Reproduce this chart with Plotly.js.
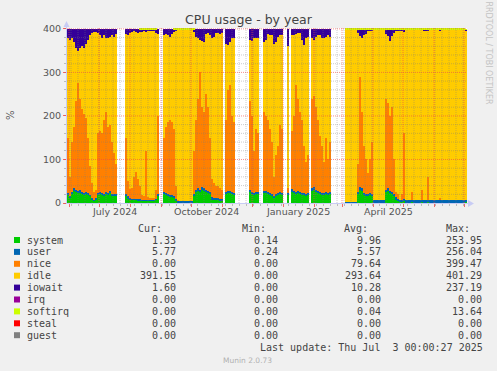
<!DOCTYPE html>
<html>
<head>
<meta charset="utf-8">
<script src="https://cdn.plot.ly/plotly-3.0.1.min.js"></script>
<style>
  html, body { margin: 0; padding: 0; background: #F0F0F0; }
  #chart { width: 497px; height: 371px; }
</style>
</head>
<body>
<div id="chart"></div>
<script>
// ---- time bins: 2-day averages starting 2024-05-30 (null = no data) ----
const binStart = '2024-05-30';
const binDays = 2;

const system = [
  18, 12, 20, 28, 25, 22, 24, 20, 18, 20,
  18, 15, 8, 5, 8, 18, 20, 18, 15, 20,
  18, 22, 15, 15, 15, null, null, null, null, 15,
  10, 8, 6, 6, 6, 5, 5, 4, 4, 5,
  4, 4, 4, 4, 6, 15, null, null, 20, 18,
  15, 14, 14, 12, 5, 1, 1, 1, 1, 1,
  1, 1, 1, 15, 25, 28, 25, 30, 28, 25,
  22, 20, 8, 6, 6, 6, 5, 5, null, 20,
  22, 22, 20, 18, null, null, null, null, null, null,
  null, 25, 20, 18, 20, 20, null, null, 22, 22,
  20, 18, 16, 12, 15, 18, 20, 18, null, null,
  18, null, 25, 22, 20, 22, 20, 18, 18, 15,
  18, null, 28, 30, 25, 22, 20, 18, 18, 20,
  18, 20, null, null, null, null, null, null, null, 0.5,
  0.5, 0.5, 0.5, 0.5, 0.5, 20, 30, 28, 18, 15,
  15, 18, 15, 1, 1, 1, 1, 1, 1, 25,
  28, 22, 20, 15, 8, 5, 2, 3, 4, 1,
  1, 1, 2, 1, 1, 1, 1, 2, 1, 1,
  2, 1, 1, 1, 1, 1, 1, 1, 1, 1,
  1, 1, 1, 1, 1, 1, 1, 1, 1, 1.3
];
const user = [
  6, 5, 6, 7, 6, 6, 6, 5, 5, 5,
  5, 4, 3, 3, 3, 5, 5, 5, 5, 5,
  5, 6, 5, 5, 5, null, null, null, null, 6,
  5, 4, 4, 4, 4, 4, 4, 3, 3, 3,
  3, 3, 3, 3, 4, 6, null, null, 5, 5,
  5, 5, 5, 4, 4, 4, 4, 4, 4, 4,
  4, 4, 4, 5, 6, 6, 6, 7, 6, 6,
  5, 5, 6, 6, 6, 5, 5, 5, null, 6,
  6, 6, 6, 5, null, null, null, null, null, null,
  null, 6, 6, 5, 5, 5, null, null, 6, 6,
  6, 5, 5, 4, 5, 5, 6, 5, null, null,
  5, null, 7, 6, 6, 6, 6, 5, 5, 5,
  5, null, 7, 7, 6, 6, 6, 5, 5, 5,
  5, 5, null, null, null, null, null, null, null, 1.5,
  1.5, 1.5, 1.5, 1.5, 1.5, 5, 6, 6, 5, 5,
  5, 5, 5, 5, 5, 5, 5, 5, 5, 6,
  6, 6, 6, 5, 5, 5, 5, 5, 5, 5,
  5, 5, 5, 5, 5, 5, 5, 5, 5, 5,
  5, 5, 5, 5, 5, 5, 5, 5, 5, 5,
  5, 5, 5, 5, 5, 5, 5, 5, 5, 5.8
];
const nice = [
  126, 43, 114, 140, 204, 247, 210, 190, 182, 170,
  127, 66, 34, 17, 19, 137, 140, 137, 170, 185,
  152, 152, 120, 95, 70, null, null, null, null, 129,
  35, 20, 25, 50, 62, 46, 29, 11, 8, 112,
  7, 5, 5, 5, 20, 179, null, null, 125, 152,
  165, 171, 166, 154, 31, 1, 0, 0, 0, 0,
  0, 0, 0, 100, 159, 206, 269, 183, 176, 219,
  193, 125, 41, 33, 28, 27, 25, 20, null, 164,
  232, 242, 174, 162, null, null, null, null, null, null,
  null, 204, 174, 97, 145, 135, null, null, 182, 172,
  164, 147, 119, 44, 90, 107, 154, 147, null, null,
  12, null, 133, 172, 244, 212, 184, 167, 107, 75,
  87, null, 205, 208, 189, 162, 129, 107, 72, 125,
  77, 115, null, null, null, null, null, null, null, 0,
  0, 0, 0, 0, 0, 65, 254, 176, 107, 80,
  50, 77, 120, 0, 0, 0, 0, 0, 0, 209,
  196, 172, 194, 80, 12, 10, 1, 12, 151, 2,
  0, 0, 18, 0, 0, 0, 0, 23, 0, 0,
  53, 0, 0, 0, 0, 0, 6, 0, 0, 0,
  0, 0, 0, 0, 0, 0, 0, 0, 0, 0
];
const idle = [
  230, 315, 238, 195, 120, 75, 115, 145, 150, 170,
  225, 300, 345, 367, 362, 230, 220, 220, 195, 170,
  203, 202, 245, 267, 298, null, null, null, null, 238,
  335, 358, 357, 334, 320, 335, 354, 375, 379, 272,
  381, 383, 382, 382, 360, 188, null, null, 235, 213,
  200, 192, 203, 223, 356, 391, 392, 392, 392, 392,
  392, 392, 392, 273, 192, 138, 75, 152, 160, 138,
  170, 235, 323, 337, 350, 352, 353, 360, null, 175,
  102, 100, 178, 195, null, null, null, null, null, null,
  null, 140, 172, 258, 210, 220, null, null, 160, 175,
  198, 215, 245, 305, 260, 252, 205, 215, null, null,
  325, null, 220, 185, 118, 150, 180, 185, 232, 285,
  272, null, 138, 130, 162, 195, 230, 250, 283, 232,
  285, 242, null, null, null, null, null, null, null, 396,
  396, 396, 396, 396, 396, 300, 93, 170, 256, 288,
  325, 295, 255, 391, 391, 391, 391, 391, 391, 148,
  153, 173, 163, 290, 369, 374, 387, 375, 233, 388.5,
  390.5, 390.5, 371.5, 390.5, 390.5, 390.5, 390.5, 366.5, 389.5, 389.5,
  335.5, 391, 391, 391, 391, 391, 384, 390.5, 390.5, 390.5,
  390.5, 390.5, 390.5, 390.5, 390.5, 390.5, 390.5, 390.5, 390.5, 389
];
const iowait = [
  20, 25, 22, 30, 45, 50, 45, 40, 45, 35,
  25, 15, 10, 8, 8, 10, 15, 20, 15, 20,
  22, 18, 15, 18, 12, null, null, null, null, 12,
  15, 10, 8, 6, 8, 10, 6, 5, 4, 6,
  3, 3, 4, 4, 8, 12, null, null, 15, 12,
  15, 18, 12, 5, 2, 1, 1, 1, 1, 1,
  1, 1, 1, 5, 18, 22, 25, 28, 30, 12,
  10, 15, 22, 18, 10, 10, 12, 10, null, 35,
  38, 30, 22, 20, null, null, null, null, null, null,
  null, 25, 28, 22, 20, 20, null, null, 30, 25,
  12, 15, 15, 35, 30, 18, 15, 15, null, null,
  40, null, 15, 15, 12, 10, 10, 25, 38, 20,
  18, null, 22, 25, 18, 15, 15, 20, 22, 18,
  15, 18, null, null, null, null, null, null, null, 0,
  0, 0, 0, 0, 0, 8, 15, 18, 12, 10,
  3, 3, 3, 1, 1, 1, 1, 1, 1, 10,
  15, 25, 15, 8, 4, 4, 3, 3, 5, 1.5,
  1.5, 1.5, 1.5, 1.5, 1.5, 1.5, 1.5, 1.5, 2.5, 2.5,
  2.5, 1, 1, 1, 1, 1, 2, 1.5, 1.5, 1.5,
  1.5, 1.5, 1.5, 1.5, 1.5, 1.5, 1.5, 1.5, 1.5, 1.6
];
const softirq = [
  0, 0, 0, 0, 0, 0, 0, 0, 0, 0,
  0, 0, 0, 0, 0, 0, 0, 0, 0, 0,
  0, 0, 0, 0, 0, null, null, null, null, 0,
  0, 0, 0, 0, 0, 0, 3, 3, 3, 3,
  3, 3, 3, 3, 3, 0, null, null, 0, 0,
  0, 0, 0, 3, 3, 3, 3, 3, 3, 3,
  3, 3, 3, 3, 0, 0, 0, 0, 0, 0,
  0, 0, 0, 0, 0, 0, 0, 0, null, 0,
  0, 0, 0, 0, null, null, null, null, null, null,
  null, 0, 0, 0, 0, 0, null, null, 0, 0,
  0, 0, 0, 0, 0, 0, 0, 0, null, null,
  0, null, 0, 0, 0, 0, 0, 0, 0, 0,
  0, null, 0, 0, 0, 0, 0, 0, 0, 0,
  0, 0, null, null, null, null, null, null, null, 3,
  3, 3, 3, 3, 3, 3, 3, 3, 3, 3,
  3, 3, 3, 3, 3, 3, 3, 3, 3, 3,
  3, 3, 3, 3, 3, 3, 3, 3, 3, 3,
  3, 3, 3, 3, 3, 3, 3, 3, 3, 3,
  3, 3, 3, 3, 3, 3, 3, 3, 3, 3,
  3, 3, 3, 3, 3, 3, 3, 3, 3, 3
];

// ---- legend table ----
const seriesNames = ['system', 'user', 'nice', 'idle', 'iowait', 'irq', 'softirq', 'steal', 'guest'];
const seriesColors = ['#00CC00', '#0066B3', '#FF8000', '#FFCC00', '#330099', '#990099', '#CCFF00', '#FF0000', '#808080'];
const curValues = ['1.33', '5.77', '0.00', '391.15', '1.60', '0.00', '0.00', '0.00', '0.00'];
const minValues = ['0.14', '0.24', '0.00', '0.00', '0.00', '0.00', '0.00', '0.00', '0.00'];
const avgValues = ['9.96', '5.57', '79.64', '293.64', '10.28', '0.00', '0.04', '0.00', '0.00'];
const maxValues = ['253.95', '256.04', '399.47', '401.29', '237.19', '0.00', '13.64', '0.00', '0.00'];
const columnHeaders = ['Cur:', 'Min:', 'Avg:', 'Max:'];

// ---- axis labels ----
const xTickLabels = ['July 2024', 'October 2024', 'January 2025', 'April 2025'];
const xTickDates = ['2024-07-16 12:00', '2024-10-16 12:00', '2025-01-16', '2025-04-16'];
const xRange = ['2024-05-30', '2025-07-04'];
const yTicks = [0, 100, 200, 300, 400];

// ---------------------------------------------------------------
const DAY = 86400000;
const t0 = Date.parse(binStart + 'T00:00:00Z');
function fmt(ms) { return new Date(ms).toISOString().slice(0, 16).replace('T', ' '); }
const xs = system.map((_, i) => fmt(t0 + (i * binDays + binDays / 2) * DAY));

const stack = [
  ['system', system, seriesColors[0]],
  ['user', user, seriesColors[1]],
  ['nice', nice, seriesColors[2]],
  ['idle', idle, seriesColors[3]],
  ['iowait', iowait, seriesColors[4]],
  ['softirq', softirq, seriesColors[6]]
];
// bars slightly wider than a bin so neighbouring columns overlap (no seams)
const traces = stack.map(([name, ys, col]) => ({
  type: 'bar', name: name, x: xs, y: ys,
  width: binDays * DAY * 1.3,
  marker: { color: col, line: { width: 0 } },
  hoverinfo: 'skip'
}));

// pixel -> paper helpers (plot area 67..467 x 28..203)
const PL = 67, PR = 467, PT = 28, PB = 203;
const px = v => (v - PL) / (PR - PL);
const py = v => (PB - v) / (PB - PT);

const shapes = [];
const minorCol = 'rgba(120,120,120,0.38)';
const majorCol = 'rgba(240,70,70,0.6)';
// horizontal grid (on top of data like rrdtool)
for (let v = 20; v <= 400; v += 20) {
  shapes.push({ type: 'line', xref: 'paper', yref: 'y', x0: 0, x1: 1, y0: v, y1: v, layer: 'above',
    line: { color: v % 100 === 0 ? majorCol : minorCol, width: 1, dash: '1px,1px' } });
}
// weekly minor grid (Mondays)
for (let t = Date.parse('2024-06-03T00:00:00Z'); t < Date.parse('2025-07-04T00:00:00Z'); t += 7 * DAY) {
  shapes.push({ type: 'line', xref: 'x', yref: 'paper', x0: fmt(t), x1: fmt(t), y0: 0, y1: 1, layer: 'above',
    line: { color: minorCol, width: 1, dash: '1px,1px' } });
}
// monthly major grid
for (let k = 0; k < 14; k++) {
  const d = new Date(Date.UTC(2024, 5 + k, 1));
  const s = fmt(d.getTime());
  shapes.push({ type: 'line', xref: 'x', yref: 'paper', x0: s, x1: s, y0: 0, y1: 1, layer: 'above',
    line: { color: majorCol, width: 1, dash: '1px,1px' } });
}
// axis lines + arrows (lavender)
const axisCol = '#C8CCF4';
shapes.push({ type: 'line', xref: 'paper', yref: 'paper', x0: px(66), x1: px(470), y0: py(203.5), y1: py(203.5), layer: 'above', line: { color: axisCol, width: 1 } });
shapes.push({ type: 'line', xref: 'paper', yref: 'paper', x0: px(66.5), x1: px(66.5), y0: py(204), y1: py(25), layer: 'above', line: { color: axisCol, width: 1 } });
shapes.push({ type: 'path', xref: 'paper', yref: 'paper', layer: 'above',
  path: `M ${px(468)},${py(200)} L ${px(474)},${py(203.5)} L ${px(468)},${py(207)} Z`,
  fillcolor: axisCol, line: { width: 0 } });
shapes.push({ type: 'path', xref: 'paper', yref: 'paper', layer: 'above',
  path: `M ${px(63.5)},${py(27)} L ${px(66.5)},${py(21)} L ${px(69.5)},${py(27)} Z`,
  fillcolor: axisCol, line: { width: 0 } });

const annotations = [];
const mono = 'DejaVu Sans Mono';
const textCol = '#444';
function ann(text, x, y, xanchor, font, extra) {
  annotations.push(Object.assign({ text: text, xref: 'paper', yref: 'paper', x: px(x), y: py(y),
    xanchor: xanchor, yanchor: 'middle', showarrow: false, borderpad: 0, borderwidth: 0, font: font }, extra || {}));
}
// x labels
xTickLabels.forEach((t, i) => {
  annotations.push({ text: t, xref: 'x', yref: 'paper', x: xTickDates[i], y: py(211.7), xanchor: 'center', yanchor: 'middle',
    showarrow: false, borderpad: 0, borderwidth: 0, font: { family: 'DejaVu Sans', size: 9.5, color: '#555' } });
});
// y title
ann('%', 10, 115, 'center', { family: 'DejaVu Sans', size: 10, color: '#555' }, { textangle: -90 });
// watermark
ann('RRDTOOL / TOBI OETIKER', 488.5, 53, 'center', { family: 'DejaVu Sans', size: 8, color: '#C4C4C4' }, { textangle: 90 });

// legend table
const headerRight = [162.3, 265.7, 367.7, 470];
const valueRight = [175.7, 278.3, 380.7, 482.3];
const monoFont = { family: mono, size: 10, color: textCol };
columnHeaders.forEach((h, j) => ann(h, headerRight[j], 228.3, 'right', monoFont));
const rowY0 = 240, rowStep = 11.9;
seriesNames.forEach((n, i) => {
  const y = rowY0 + i * rowStep;
  shapes.push({ type: 'rect', xref: 'paper', yref: 'paper', x0: px(14), x1: px(20), y0: py(y + 3), y1: py(y - 3),
    fillcolor: seriesColors[i], line: { width: 0 }, layer: 'above' });
  ann(n, 26.7, y, 'left', monoFont);
  [curValues[i], minValues[i], avgValues[i], maxValues[i]].forEach((v, j) => ann(v, valueRight[j], y, 'right', monoFont));
});
ann('Last update: Thu Jul\u00A0 3 00:00:27 2025', 482.7, 347.7, 'right', monoFont);
ann('Munin 2.0.73', 223, 360.7, 'left', { family: 'DejaVu Sans', size: 7.5, color: '#B0B0B0' });

const layout = {
  width: 497, height: 371,
  margin: { l: PL, r: 497 - PR, t: PT, b: 371 - PB, pad: 0 },
  paper_bgcolor: '#F0F0F0', plot_bgcolor: '#FFFFFF',
  font: { family: 'DejaVu Sans', size: 9.5, color: '#555' },
  title: { text: 'CPU usage - by year', x: 0.5, xref: 'container', y: 1 - 19.5 / 371, yref: 'container',
    xanchor: 'center', yanchor: 'middle', font: { family: 'DejaVu Sans', size: 12.5, color: '#444' } },
  barmode: 'stack', bargap: 0, showlegend: false,
  xaxis: {
    type: 'date', range: xRange, showgrid: false, zeroline: false, showline: false,
    tickmode: 'linear', tick0: '2024-06-01', dtick: 'M1', ticks: 'outside', ticklen: 3,
    tickcolor: 'rgba(240,70,70,0.8)', showticklabels: false,
    minor: { ticks: 'outside', ticklen: 2, tickcolor: '#BBBBBB', dtick: 7 * DAY, tick0: '2024-06-03', showgrid: false },
    fixedrange: true
  },
  yaxis: {
    range: [0, 402], tickmode: 'array', tickvals: yTicks, ticktext: yTicks.map(String),
    showgrid: false, zeroline: false, showline: false,
    ticks: 'outside', ticklen: 3, tickcolor: 'rgba(240,70,70,0.8)',
    tickfont: { family: 'DejaVu Sans', size: 9.5, color: '#555' },
    minor: { ticks: 'outside', ticklen: 2, tickcolor: '#BBBBBB', dtick: 20, tick0: 0, showgrid: false },
    fixedrange: true
  },
  shapes: shapes,
  annotations: annotations
};

Plotly.newPlot('chart', traces, layout, { staticPlot: true, displayModeBar: false });
</script>
</body>
</html>
